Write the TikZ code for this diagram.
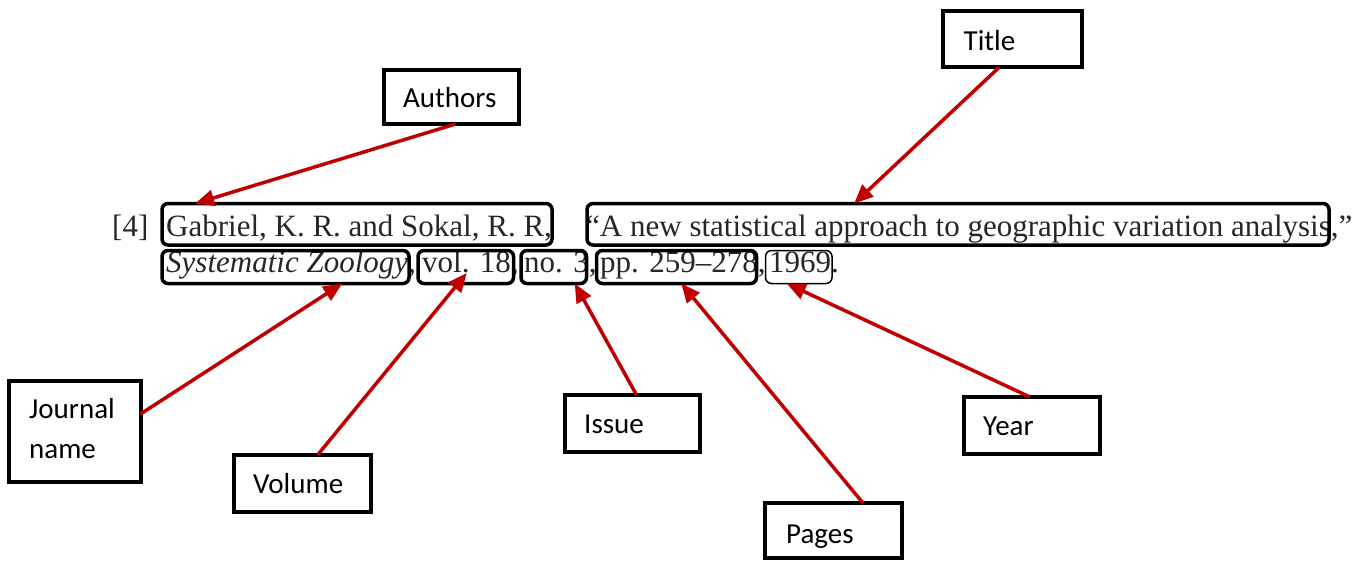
\documentclass[tikz,border=0pt]{standalone}
\usepackage{fontspec}
\setmainfont{Liberation Serif}
\newfontfamily\lblfont{Carlito}
\usetikzlibrary{arrows.meta,calc}
\definecolor{arrred}{HTML}{C00000}
\begin{document}
\begin{tikzpicture}[x=1pt,y=-1pt,
  lbox/.style={draw=black, line width=4pt, inner sep=0pt, outer sep=0pt, anchor=north west},
  ltext/.style={font=\lblfont\fontsize{29}{40}\selectfont, anchor=base west, inner sep=0pt},
  cbox/.style={draw=black, line width=3.5pt, rounded corners=6pt, inner sep=0pt, outer sep=0pt, anchor=north west},
  thinbox/.style={cbox, line width=1.5pt},
  ctext/.style={font=\fontsize{31}{36}\selectfont, text=black!85, anchor=base west, inner sep=0pt},
  arr/.style={draw=arrred, line width=3.5pt, -{Triangle[length=19pt,width=16pt]}}
]
\useasboundingbox (0,0) rectangle (1364,560);

% citation text
\node[ctext] (num) at (112,236) {[4]};
\node[ctext] (tauth) at (166,236) {Gabriel, K. R. and Sokal, R. R,};
\node[ctext] (ttitle) at (586,236) {“A new statistical approach to geographic variation analysis,”};
\node[ctext] (tjour) at (166,272) {\textit{Systematic Zoology},};
\node[ctext] (tvol) at (422,272) {vol. 18,};
\node[ctext] (tno) at (524,272) {no. 3,};
\node[ctext] (tpp) at (600,272) {pp. 259–278,};
\node[ctext] (tyear) at (769,272) {1969.};

% citation boxes
\node[cbox, minimum width=390, minimum height=41.5] (cauth) at (162,203.5) {};
\node[cbox, minimum width=742, minimum height=41.5] (ctitle) at (587,203.5) {};
\node[cbox, minimum width=247, minimum height=33] (cjour) at (162,250.5) {};
\node[cbox, minimum width=95.5, minimum height=33] (cvol) at (418,250.5) {};
\node[cbox, minimum width=65.5, minimum height=33] (cno) at (521,250.5) {};
\node[cbox, minimum width=160, minimum height=33] (cpp) at (596.5,250.5) {};
\node[thinbox, minimum width=66.5, minimum height=33] (cyear) at (765.5,250.5) {};

% label boxes
\node[lbox, minimum width=135, minimum height=54] (authors) at (384,70) {};
\node[ltext] at ($(authors.north west)+(19,37)$) {Authors};
\node[lbox, minimum width=139, minimum height=56] (title) at (942.5,11) {};
\node[ltext] at ($(title.north west)+(21,39)$) {Title};
\node[lbox, minimum width=131.5, minimum height=101.5] (journal) at (9,380.5) {};
\node[ltext] at ($(journal.north west)+(20,37.5)$) {Journal};
\node[ltext] at ($(journal.north west)+(20,77.5)$) {name};
\node[lbox, minimum width=137, minimum height=57] (volume) at (234,455) {};
\node[ltext] at ($(volume.north west)+(19,38)$) {Volume};
\node[lbox, minimum width=135, minimum height=57] (issue) at (565,395) {};
\node[ltext] at ($(issue.north west)+(19,38)$) {Issue};
\node[lbox, minimum width=136, minimum height=57] (year) at (964,397) {};
\node[ltext] at ($(year.north west)+(19,38)$) {Year};
\node[lbox, minimum width=137, minimum height=55] (pages) at (765,503) {};
\node[ltext] at ($(pages.north west)+(21,40)$) {Pages};

% arrows
\draw[arr] ($(authors.south west)!0.53!(authors.south east)$) -- ($(cauth.north west)!0.085!(cauth.north east)$);
\draw[arr] ($(title.south west)!0.41!(title.south east)$) -- ($(ctitle.north west)!0.36!(ctitle.north east)$);
\draw[arr] ($(journal.north east)!0.33!(journal.south east)$) -- ($(cjour.south west)!0.73!(cjour.south east)$);
\draw[arr] ($(volume.north west)!0.61!(volume.north east)$) -- ($(cvol.center)+(1,6)$);
\draw[arr] ($(issue.north west)!0.53!(issue.north east)$) -- ($(cno.south west)!0.82!(cno.south east)$);
\draw[arr] ($(pages.north west)!0.715!(pages.north east)$) -- ($(cpp.south west)!0.53!(cpp.south east)$);
\draw[arr] ($(year.north west)!0.485!(year.north east)$) -- ($(cyear.south west)!0.32!(cyear.south east)$);
\end{tikzpicture}
\end{document}
